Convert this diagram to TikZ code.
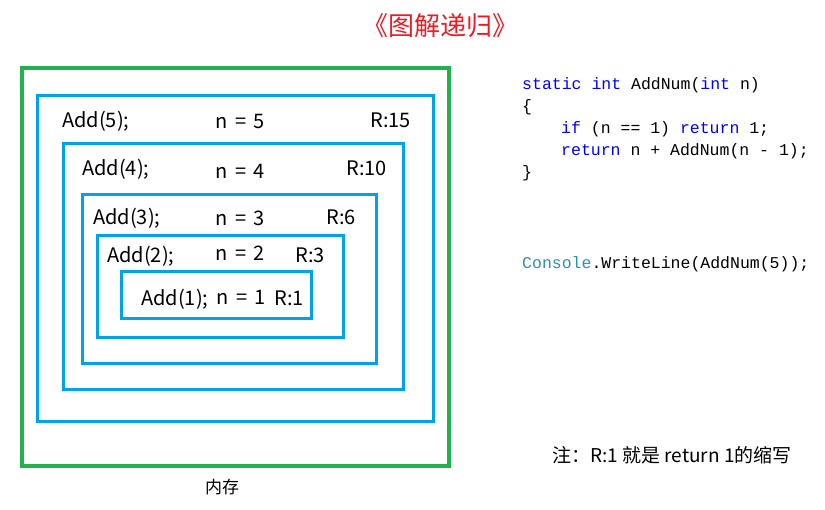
\documentclass[tikz,border=0pt]{standalone}
\usepackage{fontspec}
\setmainfont{Noto Sans CJK SC}
\newfontfamily\codefont{Liberation Mono}
\usetikzlibrary{positioning}
\definecolor{boxblue}{RGB}{0,162,232}
\definecolor{memgreen}{RGB}{34,177,76}
\definecolor{titlered}{RGB}{237,28,36}
\definecolor{kwblue}{RGB}{0,0,255}
\definecolor{typeteal}{RGB}{43,145,175}
\tikzset{
  callbox/.style={draw=boxblue,line width=3pt},
  membox/.style={draw=memgreen,line width=4pt},
  lbl/.style={font=\fontsize{20}{24}\selectfont,inner sep=0pt},
  code/.style={font=\codefont\fontsize{16.5}{20}\selectfont,anchor=base west,inner sep=0pt},
}
\newcommand{\kw}[1]{\textcolor{kwblue}{#1}}

\begin{document}
\begin{tikzpicture}[x=1pt,y=-1pt]
\useasboundingbox (0,0) rectangle (825,509);
\node[font=\fontsize{26}{30}\selectfont,text=titlered] (title) at (440,26) {《图解递归》};
% memory
\draw[membox] (22,68) rectangle (449,466);
\node[lbl,font=\fontsize{17}{20}\selectfont,anchor=base] (mem) at (222,493) {内存};
% one box per call
\foreach \n/\r/\xa/\ya/\xb/\yb/\ax/\nx/\rx/\ty/\ny in {
  5/15/37/95/433/421/62/240/411/127/128,
  4/10/63/143/403/389/82/240/387/175/178,
  3/6/82/194/376/363/93/240/356/224/225,
  2/3/97/235/343/337/107/240/325/262/260,
  1/1/121/271/311/318/141/241/304/305/304}
{
  \draw[callbox] (\xa,\ya) rectangle (\xb,\yb);
  \node[lbl,anchor=base west] (add\n) at (\ax,\ty) {Add(\n);};
  \node[lbl,anchor=base] (n\n) at (\nx,\ny) {n\hspace{0.35em}=\hspace{0.35em}\n};
  \node[lbl,anchor=base east] (r\n) at (\rx,\ty) {R:\r};
}
% code
\node[code] (c1) at (522,89) {\kw{static} \kw{int} AddNum(\kw{int} n)};
\node[code] (c2) at (522,111) {\{};
\node[code] (c3) at (561,133) {\kw{if} (n == 1) \kw{return} 1;};
\node[code] (c4) at (561,155) {\kw{return} n + AddNum(n - 1);};
\node[code] (c5) at (522,177) {\}};
\node[code] (c6) at (522,268) {\textcolor{typeteal}{Console}.WriteLine(AddNum(5));};
\node[lbl,font=\fontsize{19}{22}\selectfont,anchor=base west] (note) at (552,462) {注：R:1 就是 return 1的缩写};
\end{tikzpicture}
\end{document}
